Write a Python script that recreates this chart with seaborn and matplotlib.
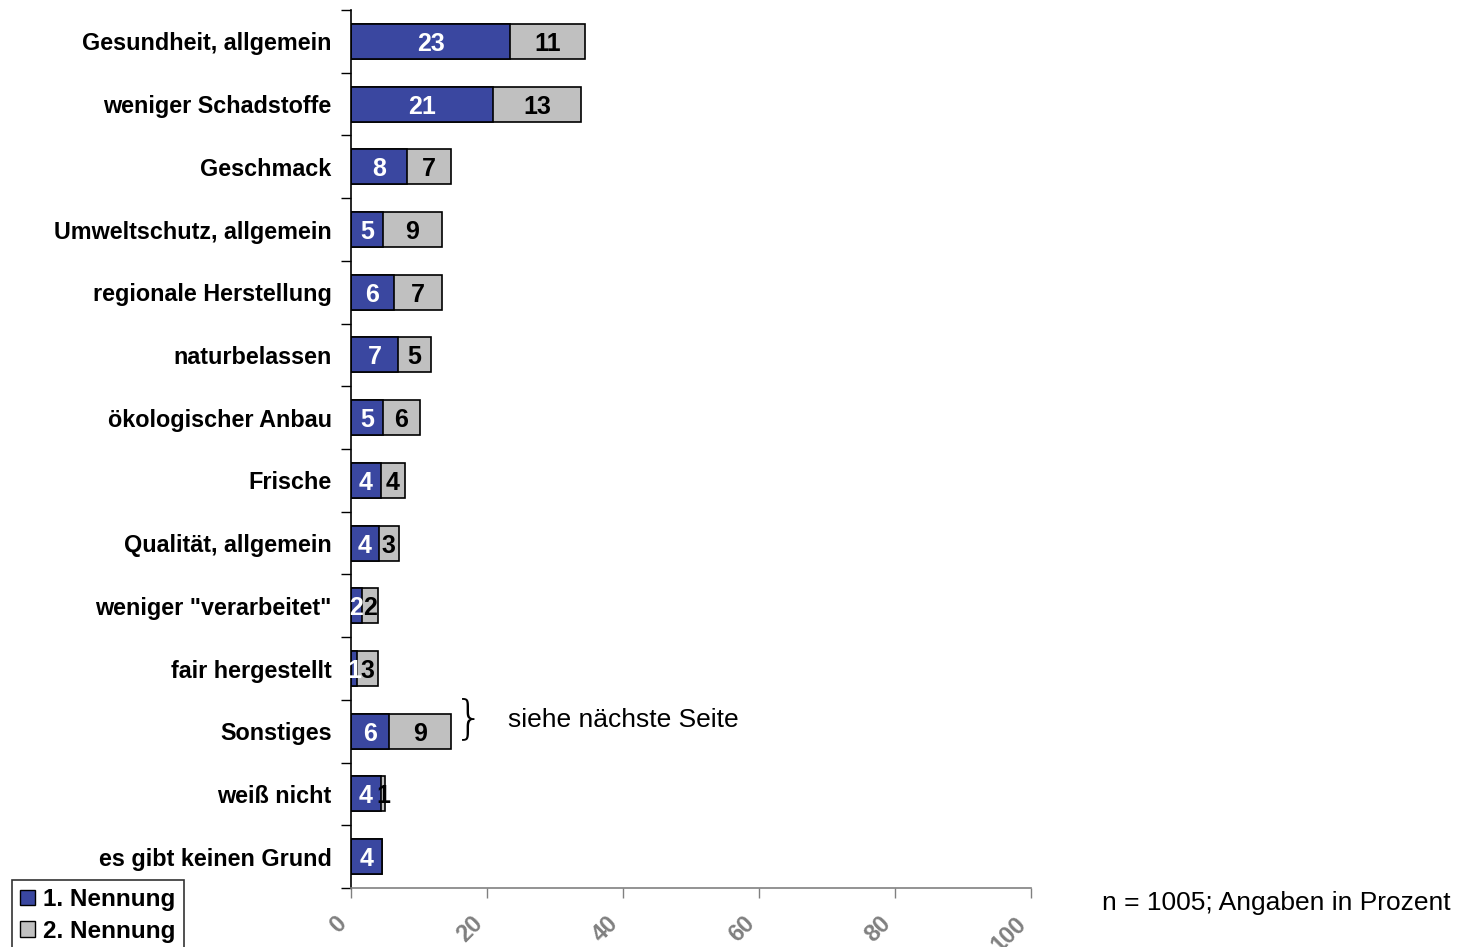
import matplotlib
matplotlib.use("Agg")
import matplotlib.pyplot as plt
import seaborn as sns
import pandas as pd
import numpy as np
from matplotlib.patches import Patch

categories = ["Gesundheit, allgemein", "weniger Schadstoffe", "Geschmack",
              "Umweltschutz, allgemein", "regionale Herstellung", "naturbelassen",
              "ökologischer Anbau", "Frische", "Qualität, allgemein",
              "weniger \"verarbeitet\"", "fair hergestellt", "Sonstiges",
              "weiß nicht", "es gibt keinen Grund"]
first = [23.4, 20.9, 8.2, 4.7, 6.3, 6.9, 4.7, 4.4, 4.1, 1.6, 0.9, 5.6, 4.4, 4.6]
second = [11.0, 12.9, 6.5, 8.7, 7.1, 4.9, 5.4, 3.5, 2.9, 2.4, 3.1, 9.1, 0.6, 0.0]
first_labels = ["23", "21", "8", "5", "6", "7", "5", "4", "4", "2", "1", "6", "4", "4"]
second_labels = ["11", "13", "7", "9", "7", "5", "6", "4", "3", "2", "3", "9", "1", ""]
xticks = [0, 20, 40, 60, 80, 100]
series_names = ["1. Nennung", "2. Nennung"]

BLUE = "#3A47A0"
GREY = "#C0C0C0"

sns.set_style("white")
plt.rcParams['font.family'] = ['Liberation Sans', 'DejaVu Sans']
plt.rcParams['text.color'] = 'black'

df = pd.DataFrame({"cat": categories, "first": first, "second": second})
df["total"] = df["first"] + df["second"]

fig = plt.figure(figsize=(14.58, 9.47), dpi=100)
ax = fig.add_axes([351/1458, 1-888/947, 680/1458, 878/947])

sns.barplot(data=df, y="cat", x="total", orient="h", color=GREY, width=0.56,
            edgecolor="black", linewidth=1.2, saturation=1, ax=ax)
sns.barplot(data=df, y="cat", x="first", orient="h", color=BLUE, width=0.56,
            edgecolor="black", linewidth=1.2, saturation=1, ax=ax)

for i in range(len(categories)):
    f, s = first[i], second[i]
    ax.text(f/2, i, first_labels[i], color="white", fontsize=18, fontweight="bold",
            ha="center", va="center_baseline")
    if second_labels[i]:
        ax.text(f + s/2, i, second_labels[i], color="black", fontsize=18, fontweight="bold",
                ha="center", va="center_baseline")

ax.set_xlim(0, 100)
ax.set_ylim(len(categories)-0.5, -0.5)
ax.set_xlabel("")
ax.set_ylabel("")

ax.set_yticks(np.arange(-0.5, len(categories), 1.0))
ax.set_yticklabels([])
ax.set_yticks(np.arange(len(categories)), minor=True)
ax.set_yticklabels(categories, minor=True, fontsize=16.8, fontweight="bold", color="black")
ax.tick_params(axis="y", which="major", direction="out", length=7, width=1, color="black", left=True)
ax.tick_params(axis="y", which="minor", length=0, pad=14)

ax.set_xticks(xticks)
ax.set_xticklabels([str(t) for t in xticks], rotation=45, ha="right", va="bottom",
                   rotation_mode="anchor", color="#808080", fontsize=17, fontweight="bold")
ax.tick_params(axis="x", direction="out", length=7, width=1, color="#808080", bottom=True, pad=22)

for side in ["top", "right"]:
    ax.spines[side].set_visible(False)
ax.spines["left"].set_color("black")
ax.spines["left"].set_linewidth(1.2)
ax.spines["bottom"].set_color("#808080")
ax.spines["bottom"].set_linewidth(1.2)

handles = [Patch(facecolor=BLUE, edgecolor="black", label=series_names[0]),
           Patch(facecolor=GREY, edgecolor="black", label=series_names[1])]
leg = fig.legend(handles=handles, loc="upper left", bbox_to_anchor=(12/1458, 1-880/947),
                 frameon=True, fancybox=False, edgecolor="black",
                 prop={"size": 17.5, "weight": "bold"}, handlelength=0.6, handleheight=0.6,
                 handletextpad=0.35, borderpad=0.33, labelspacing=0.36, borderaxespad=0)
leg.get_frame().set_linewidth(1.2)

fig.text(469/1458, 1-719/947, "}", fontsize=34, ha="center", va="center",
         family="DejaVu Sans", fontweight="light")
fig.text(508/1458, 1-720/947, "siehe nächste Seite", fontsize=19, ha="left", va="center")
fig.text(1102/1458, 1-903/947, "n = 1005; Angaben in Prozent", fontsize=19, ha="left", va="center")

fig.savefig("out.png", dpi=100)
